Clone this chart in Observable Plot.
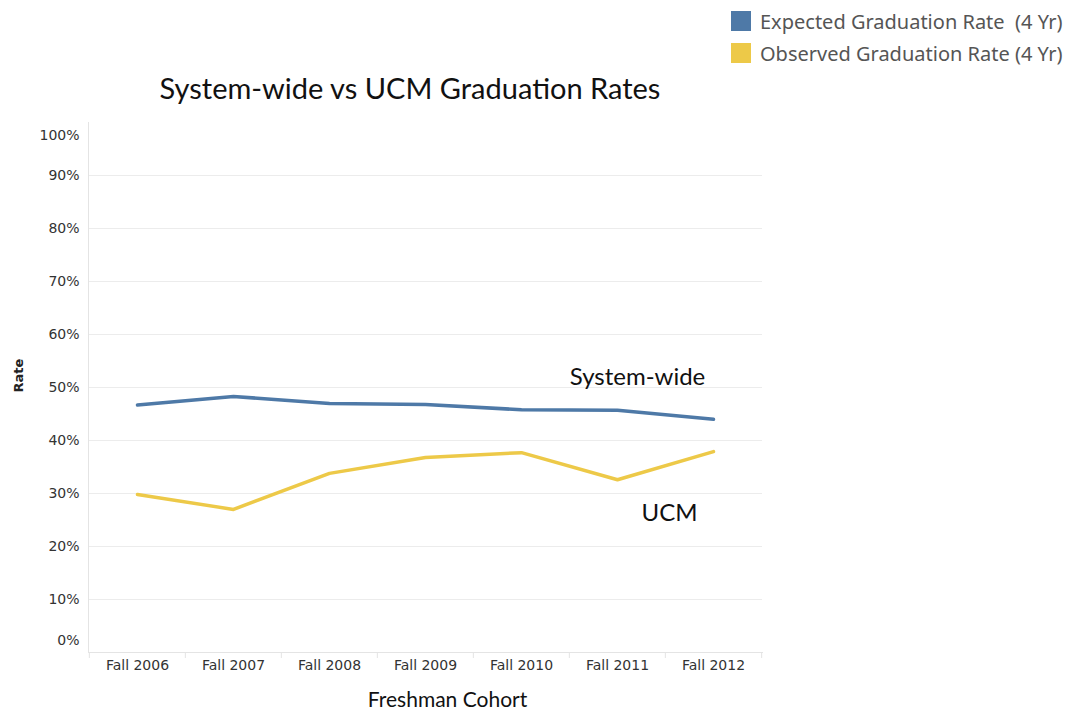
<!DOCTYPE html>
<html><head><meta charset="utf-8">
<script src="https://cdn.jsdelivr.net/npm/d3@7"></script>
<script src="https://cdn.jsdelivr.net/npm/@observablehq/plot@0.6"></script>
<style>
body{margin:0;background:#fff;width:1070px;height:709px;overflow:hidden;font-family:"DejaVu Sans",sans-serif}
#header{position:relative;height:110px;width:1070px}
#legend{position:absolute;left:731px;top:5px;font-family:"Noto Sans",sans-serif;font-size:20px;color:#555}
.li{display:flex;align-items:center;height:32px;white-space:pre}
.sw{width:20px;height:20px;margin-right:9px}
#title{position:absolute;left:0;width:820px;top:70px;text-align:center;font-family:Lato,sans-serif;font-size:29px;color:#111}
#chart svg{display:block}
</style></head><body>
<div id="header">
  <div id="legend"></div>
  <div id="title">System-wide vs UCM Graduation Rates</div>
</div>
<div id="chart"></div>
<script>
const cohorts = ["Fall 2006","Fall 2007","Fall 2008","Fall 2009","Fall 2010","Fall 2011","Fall 2012"];
const expectedRate = [0.467,0.483,0.470,0.468,0.458,0.457,0.440];
const observedRate = [0.298,0.270,0.338,0.368,0.377,0.326,0.379];
const seriesNames = ["Expected Graduation Rate  (4 Yr)","Observed Graduation Rate (4 Yr)"];
const seriesColors = ["#4e79a7","#edc948"];
const yTicks = [0,0.1,0.2,0.3,0.4,0.5,0.6,0.7,0.8,0.9,1.0];
const annotationText = ["System-wide","UCM"];
const annotationCohort = ["Fall 2011","Fall 2011"];
const annotationValue = [0.519,0.262];
const annotationDx = [20,52];

const legend = document.getElementById("legend");
seriesNames.forEach((n,i)=>{
  const d=document.createElement("div");d.className="li";
  d.innerHTML=`<span class="sw" style="background:${seriesColors[i]}"></span>${n}`;
  legend.appendChild(d);
});

const rows = [];
cohorts.forEach((c,i)=>rows.push({cohort:c,value:expectedRate[i],series:seriesNames[0]}));
cohorts.forEach((c,i)=>rows.push({cohort:c,value:observedRate[i],series:seriesNames[1]}));
const annots = annotationText.map((t,i)=>({text:t,cohort:annotationCohort[i],value:annotationValue[i],dx:annotationDx[i]}));

const W=1070, H=599, ML=88, MR=308, MT=12, MB=57;
const step = (W-ML-MR)/cohorts.length;
const pct = d3.format(".0%");
const midTicks = yTicks.filter(t=>t>0 && t<1);
const tickFont = {fontSize:14, fill:"#333"};

const plot = Plot.plot({
  width:W, height:H,
  marginLeft:ML, marginRight:MR, marginTop:MT, marginBottom:MB,
  style:{fontFamily:"'DejaVu Sans',sans-serif", background:"#fff"},
  x:{type:"point", domain:cohorts, padding:0.5, label:null},
  y:{domain:[0,1], label:null},
  color:{domain:seriesNames, range:seriesColors},
  marks:[
    Plot.gridY(midTicks,{stroke:"#ececec", strokeOpacity:1}),
    Plot.frame({anchor:"left", stroke:"#e4e4e4"}),
    Plot.frame({anchor:"bottom", stroke:"#e4e4e4"}),
    Plot.axisX({tickSize:6, text:null, dx:-step/2, stroke:"#e4e4e4", strokeOpacity:1}),
    Plot.axisX([cohorts[cohorts.length-1]],{tickSize:6, text:null, dx:step/2, stroke:"#e4e4e4", strokeOpacity:1}),
    Plot.axisX({tickSize:0, tickPadding:8, ...tickFont, label:null}),
    Plot.axisY(midTicks,{tickSize:0, tickPadding:9, tickFormat:pct, ...tickFont, label:null}),
    Plot.axisY([yTicks[yTicks.length-1]],{tickSize:0, tickPadding:9, tickFormat:pct, ...tickFont, dy:13, label:null}),
    Plot.axisY([yTicks[0]],{tickSize:0, tickPadding:9, tickFormat:pct, ...tickFont, dy:-12, label:null}),
    Plot.text(["Rate"],{frameAnchor:"left", rotate:-90, dx:-70, dy:5, fontWeight:"bold", fontSize:13, fill:"#222"}),
    Plot.text(["Freshman Cohort"],{frameAnchor:"bottom", dy:54, dx:22, fontSize:21, fontFamily:"Lato,sans-serif", fill:"#111"}),
    Plot.line(rows,{x:"cohort", y:"value", stroke:"series", z:"series", strokeWidth:3.5, strokeLinejoin:"round"}),
    Plot.text(annots.slice(0,1),{x:"cohort", y:"value", text:"text", dx:annots[0].dx, fontSize:24, fontFamily:"Lato,sans-serif", fill:"#111"}),
    Plot.text(annots.slice(1),{x:"cohort", y:"value", text:"text", dx:annots[1].dx, fontSize:24, fontFamily:"Lato,sans-serif", fill:"#111"})
  ]
});
document.getElementById("chart").appendChild(plot);
</script>
</body></html>
